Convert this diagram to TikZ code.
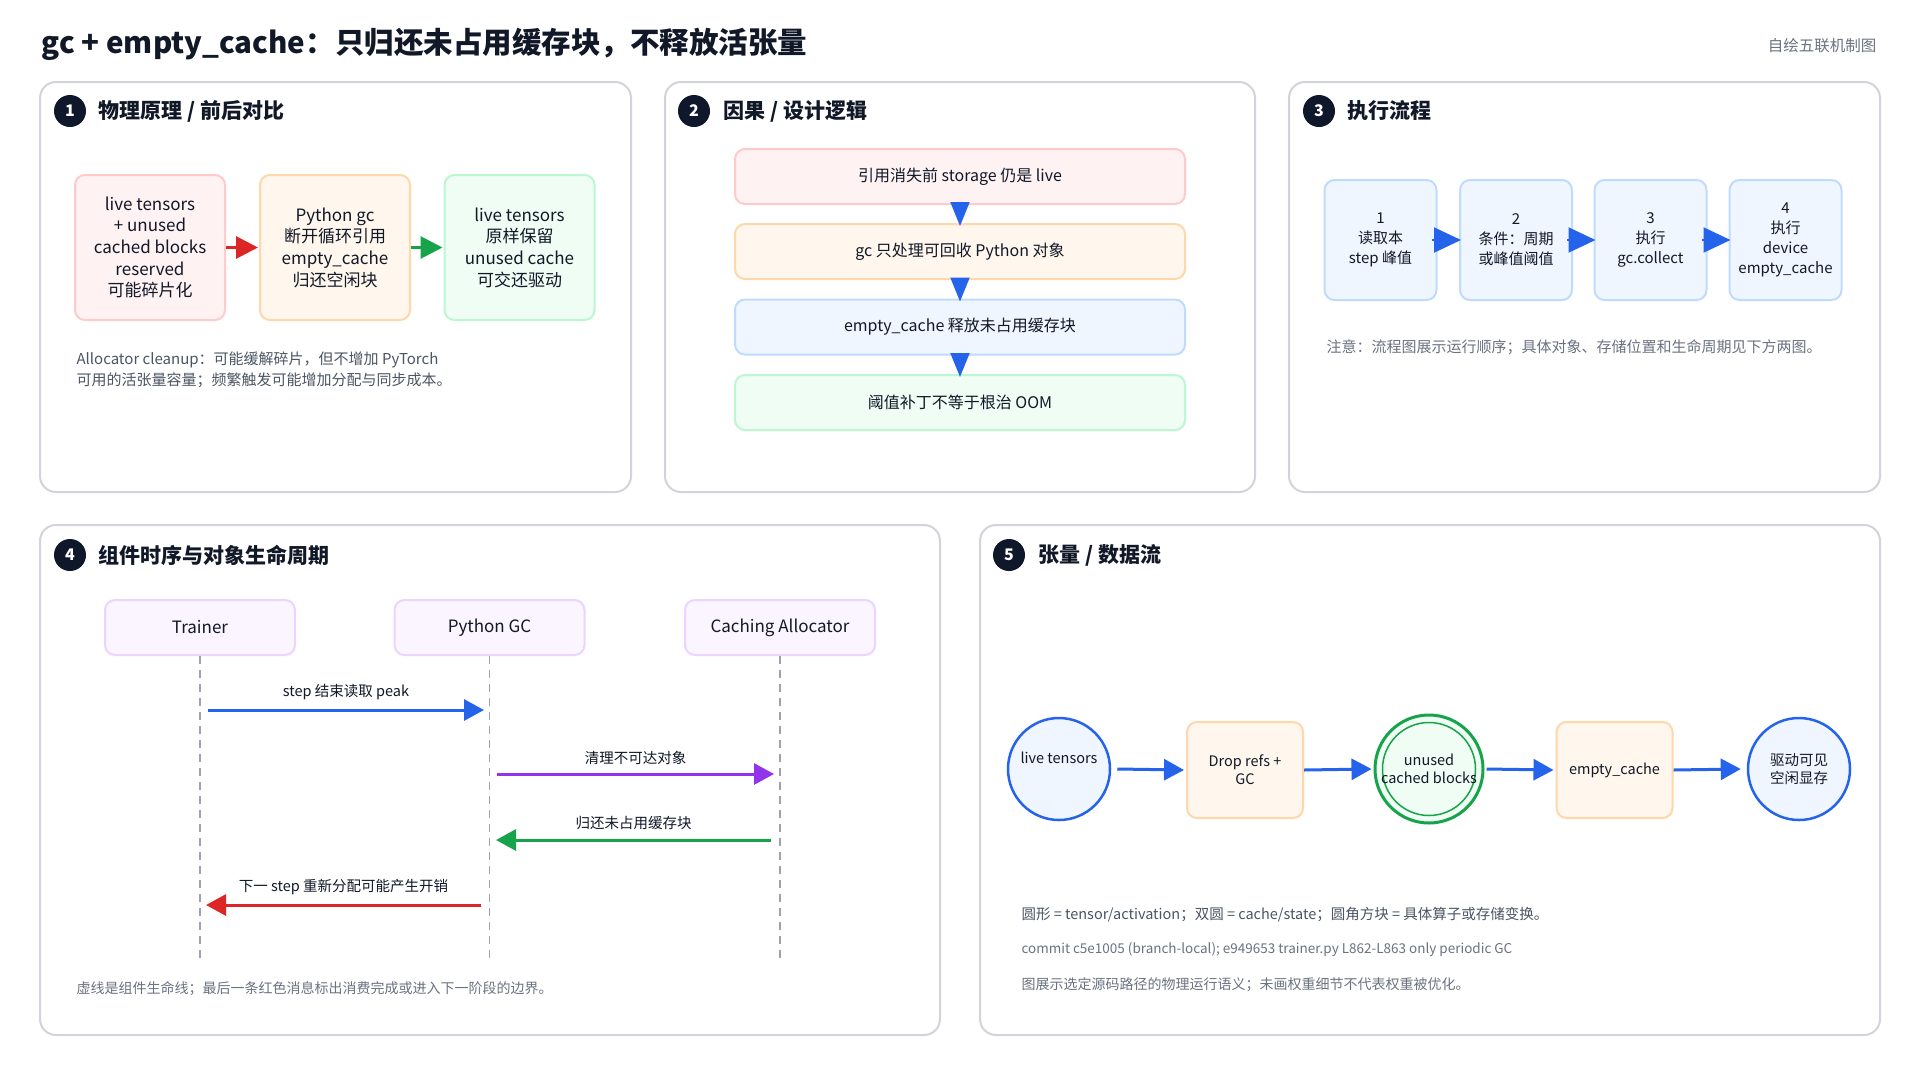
\documentclass[tikz,border=0pt]{standalone}
\usepackage{fontspec}
\setmainfont{Noto Sans CJK SC}
\usetikzlibrary{arrows.meta,positioning}
\definecolor{ink}{HTML}{111827}
\definecolor{note}{HTML}{4B5563}
\definecolor{light}{HTML}{6B7280}
\definecolor{pborder}{HTML}{D1D5DB}
\definecolor{redfill}{HTML}{FEF2F2}\definecolor{redline}{HTML}{FECACA}
\definecolor{orfill}{HTML}{FFF7ED}\definecolor{orline}{HTML}{FED7AA}
\definecolor{grfill}{HTML}{F0FDF4}\definecolor{grline}{HTML}{BBF7D0}
\definecolor{blfill}{HTML}{EFF6FF}\definecolor{blline}{HTML}{BFDBFE}
\definecolor{pufill}{HTML}{FAF5FF}\definecolor{puline}{HTML}{E9D5FF}
\definecolor{ablue}{HTML}{2563EB}
\definecolor{ared}{HTML}{DC2626}
\definecolor{agreen}{HTML}{16A34A}
\definecolor{apurple}{HTML}{9333EA}
\definecolor{badgec}{HTML}{0F172A}
\definecolor{lifec}{HTML}{9CA3AF}
\begin{document}
\begin{tikzpicture}[x=1pt,y=-1pt,
  panel/.style={draw=pborder,line width=2pt,rounded corners=16pt,fill=white},
  badge/.style={circle,fill=badgec,text=white,minimum size=32pt,inner sep=0pt,font=\fontsize{16}{16}\selectfont\bfseries},
  ptitle/.style={anchor=west,text=ink,font=\fontsize{21}{25}\selectfont\bfseries},
  box/.style={rectangle,rounded corners=10pt,line width=2pt,align=center,text=ink,inner sep=2pt},
  redbox/.style={box,fill=redfill,draw=redline},
  orbox/.style={box,fill=orfill,draw=orline},
  grbox/.style={box,fill=grfill,draw=grline},
  blbox/.style={box,fill=blfill,draw=blline},
  pubox/.style={box,fill=pufill,draw=puline},
  notetext/.style={anchor=west,text=note,align=left},
  bigarrow/.style={line width=3pt,-{Triangle[length=22pt,width=22pt]}},
  msg/.style={line width=3pt,-{Triangle[length=20pt,width=21pt]}},
  vtri/.style={line width=2pt,ablue,-{Triangle[length=24pt,width=19pt]}},
  htri/.style={line width=2pt,ablue,-{Triangle[length=27pt,width=25pt]}},
  lifeline/.style={draw=lifec,line width=1.5pt,dash pattern=on 8pt off 6pt},
  msglabel/.style={text=ink,font=\fontsize{14.5}{17}\selectfont}
]
\useasboundingbox[fill=white] (0,0) rectangle (1920,1080);

% title
\node[anchor=west,text=ink,font=\fontsize{29.5}{34}\selectfont\bfseries] (title) at (38,44) {gc + empty\_cache：只归还未占用缓存块，不释放活张量};
\node[anchor=east,text=light,font=\fontsize{15.5}{18}\selectfont] (sig) at (1880,46) {自绘五联机制图};

% panels
\draw[panel] (40,82) rectangle (631,492);
\draw[panel] (665,82) rectangle (1255,492);
\draw[panel] (1289,82) rectangle (1880,492);
\draw[panel] (40,525) rectangle (940,1035);
\draw[panel] (980,525) rectangle (1880,1035);

% headers
\node[badge] (b1) at (70,111) {1};
\node[ptitle] (t1) at (95,111) {物理原理 / 前后对比};
\node[badge] (b2) at (694,111) {2};
\node[ptitle] (t2) at (720,111) {因果 / 设计逻辑};
\node[badge] (b3) at (1319,111) {3};
\node[ptitle] (t3) at (1344,111) {执行流程};
\node[badge] (b4) at (70,555) {4};
\node[ptitle] (t4) at (95,555) {组件时序与对象生命周期};
\node[badge] (b5) at (1009,555) {5};
\node[ptitle] (t5) at (1035,555) {张量 / 数据流};

% ---------- panel 1
\begin{scope}[every node/.append style={font=\fontsize{17}{21.7}\selectfont,minimum width=150pt,minimum height=145pt}]
\node[redbox] (p1a) at (150,247.5) {live tensors\\+ unused\\cached blocks\\reserved\\可能碎片化};
\node[orbox] (p1b) at (335,247.5) {Python gc\\断开循环引用\\empty\_cache\\归还空闲块};
\node[grbox] (p1c) at (519.5,247.5) {live tensors\\原样保留\\unused cache\\可交还驱动};
\end{scope}
\draw[bigarrow,ared] (p1a.east) -- ([xshift=-1pt]p1b.west);
\draw[bigarrow,agreen] (p1b.east) -- ([xshift=-1pt]p1c.west);
\node[notetext,font=\fontsize{15}{21}\selectfont] (n1) at (73,370) {Allocator cleanup：可能缓解碎片，但不增加 PyTorch\\可用的活张量容量；频繁触发可能增加分配与同步成本。};

% ---------- panel 2
\begin{scope}[every node/.append style={font=\fontsize{16}{20}\selectfont,minimum width=450pt,minimum height=55pt}]
\node[redbox] (p2a) at (960,176.5) {引用消失前 storage 仍是 live};
\node[orbox] (p2b) at (960,251.5) {gc 只处理可回收 Python 对象};
\node[blbox] (p2c) at (960,327) {empty\_cache 释放未占用缓存块};
\node[grbox] (p2d) at (960,402.5) {阈值补丁不等于根治 OOM};
\end{scope}
\draw[vtri] ([yshift=-6pt]p2a.south) -- ([yshift=-3pt]p2b.north);
\draw[vtri] ([yshift=-6pt]p2b.south) -- ([yshift=-3pt]p2c.north);
\draw[vtri] ([yshift=-6pt]p2c.south) -- ([yshift=-3pt]p2d.north);

% ---------- panel 3
\begin{scope}[every node/.append style={font=\fontsize{15}{20}\selectfont,minimum width=112pt,minimum height=120pt}]
\node[blbox] (p3a) at (1380.5,240) {1\\读取本\\step 峰值};
\node[blbox] (p3b) at (1516,240) {2\\条件：周期\\或峰值阈值};
\node[blbox] (p3c) at (1650.5,240) {3\\执行\\gc.collect};
\node[blbox] (p3d) at (1785.5,240) {4\\执行\\device\\empty\_cache};
\end{scope}
\draw[htri] ([xshift=-6pt]p3a.east) -- ([xshift=2pt]p3b.west);
\draw[htri] ([xshift=-6pt]p3b.east) -- ([xshift=2pt]p3c.west);
\draw[htri] ([xshift=-6pt]p3c.east) -- ([xshift=2pt]p3d.west);
\node[anchor=west,text=light,font=\fontsize{15}{18}\selectfont] (n3) at (1323,347) {注意：流程图展示运行顺序；具体对象、存储位置和生命周期见下方两图。};

% ---------- panel 4
\begin{scope}[every node/.append style={font=\fontsize{17}{20}\selectfont,minimum width=190pt,minimum height=55pt}]
\node[pubox] (h1) at (200,627.5) {Trainer};
\node[pubox] (h2) at (489.5,627.5) {Python GC};
\node[pubox] (h3) at (780,627.5) {Caching Allocator};
\end{scope}
\coordinate (e1) at (200,961);
\coordinate (e2) at (489.5,961);
\coordinate (e3) at (780,961);
\draw[lifeline] (h1.south) -- (e1);
\draw[lifeline] (h2.south) -- (e2);
\draw[lifeline] (h3.south) -- (e3);
\coordinate (m1s) at (208,710); \coordinate (m1e) at (484,710);
\coordinate (m2s) at (497,774); \coordinate (m2e) at (774,774);
\coordinate (m3s) at (771,840); \coordinate (m3e) at (496,840);
\coordinate (m4s) at (481,905); \coordinate (m4e) at (206,905);
\draw[msg,ablue] (m1s) -- (m1e) node[msglabel,midway,above=5pt] (l1) {step 结束读取 peak};
\draw[msg,apurple] (m2s) -- (m2e) node[msglabel,midway,above=5pt] (l2) {清理不可达对象};
\draw[msg,agreen] (m3s) -- (m3e) node[msglabel,midway,above=5pt] (l3) {归还未占用缓存块};
\draw[msg,ared] (m4s) -- (m4e) node[msglabel,midway,above=5pt] (l4) {下一 step 重新分配可能产生开销};
\node[anchor=west,text=light,font=\fontsize{14}{17}\selectfont] (n4) at (73,989) {虚线是组件生命线；最后一条红色消息标出消费完成或进入下一阶段的边界。};

% ---------- panel 5
\node[circle,draw=ablue,line width=2.5pt,fill=blfill,minimum size=102pt,inner sep=0pt,align=center,text=ink,font=\fontsize{14.5}{18}\selectfont] (c1) at (1059,769) {live tensors\\[4pt]\phantom{x}};
\node[orbox,minimum width=116pt,minimum height=96pt,font=\fontsize{14.5}{18}\selectfont] (d1) at (1245,770) {Drop refs +\\GC};
\node[circle,draw=agreen,line width=3pt,fill=grfill,minimum size=108pt,inner sep=0pt] (c2) at (1429,769) {};
\draw[agreen,line width=1.5pt] (c2.center) circle[radius=46.5pt];
\node[align=center,text=ink,font=\fontsize{14.5}{18}\selectfont] (c2t) at (1429,769) {unused\\cached blocks};
\node[orbox,minimum width=116pt,minimum height=96pt,font=\fontsize{14.5}{18}\selectfont] (d2) at (1614.5,770) {empty\_cache};
\node[circle,draw=ablue,line width=2.5pt,fill=blfill,minimum size=102pt,inner sep=0pt,align=center,text=ink,font=\fontsize{14.5}{18}\selectfont] (c3) at (1799,769) {驱动可见\\空闲显存};
\draw[msg,ablue] ([xshift=6pt]c1.east) -- ([xshift=-2pt]d1.west);
\draw[msg,ablue] (d1.east) -- ([xshift=-2pt]c2.west);
\draw[msg,ablue] ([xshift=2pt]c2.east) -- ([xshift=-2pt]d2.west);
\draw[msg,ablue] (d2.east) -- ([xshift=-6pt]c3.west);
\node[anchor=west,text=note,font=\fontsize{14.5}{17}\selectfont] (n5a) at (1018,915) {圆形 = tensor/activation；双圆 = cache/state；圆角方块 = 具体算子或存储变换。};
\node[anchor=west,text=light,font=\fontsize{13.5}{16}\selectfont] (n5b) at (1018,950) {commit c5e1005 (branch-local); e949653 trainer.py L862-L863 only periodic GC};
\node[anchor=west,text=light,font=\fontsize{14}{17}\selectfont] (n5c) at (1018,985) {图展示选定源码路径的物理运行语义；未画权重细节不代表权重被优化。};
\end{tikzpicture}
\end{document}
